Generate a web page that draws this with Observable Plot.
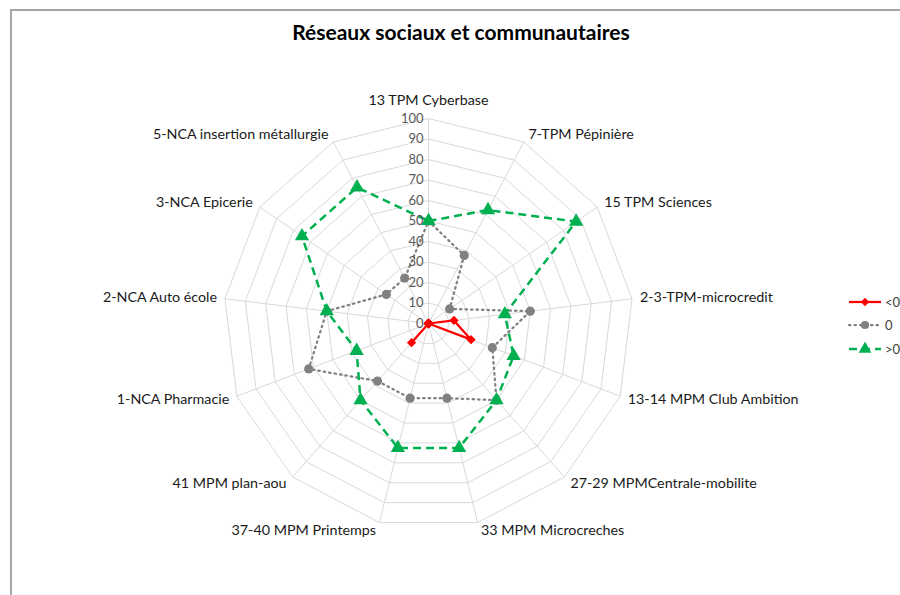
<!DOCTYPE html>
<html>
<head>
<meta charset="utf-8">
<script src="https://cdn.jsdelivr.net/npm/d3@7"></script>
<script src="https://cdn.jsdelivr.net/npm/@observablehq/plot@0.6"></script>
<style>
  html, body { margin: 0; padding: 0; background: #fff; }
  #wrap { position: relative; width: 900px; height: 595px; overflow: hidden; font-family: Lato, "Open Sans", sans-serif; }
  #border { position: absolute; left: 10px; top: 9px; width: 900px; height: 600px; border-left: 2px solid #a6a6a6; border-top: 2px solid #a6a6a6; box-sizing: border-box; }
  #title { position: absolute; left: 0; width: 922px; top: 19px; text-align: center; font-weight: bold; font-size: 21px; color: #000; }
  #legend { position: absolute; left: 847px; top: 290px; font-size: 13px; color: #404040; }
  #legend .row { height: 23.5px; display: flex; align-items: center; white-space: nowrap; }
  #legend svg { margin-right: 2px; }
  #chart { position: absolute; left: 0; top: 0; }
</style>
</head>
<body>
<div id="wrap">
  <div id="border"></div>
  <div id="chart"></div>
  <div id="title"></div>
  <div id="legend"></div>
</div>
<script>
const titleText = "Réseaux sociaux et communautaires";
const categories = [
  "13 TPM Cyberbase",
  "7-TPM Pépinière",
  "15 TPM Sciences",
  "2-3-TPM-microcredit",
  "13-14 MPM Club Ambition",
  "27-29 MPMCentrale-mobilite",
  "33 MPM Microcreches",
  "37-40 MPM Printemps",
  "41 MPM plan-aou",
  "1-NCA Pharmacie",
  "2-NCA Auto école",
  "3-NCA Epicerie",
  "5-NCA insertion métallurgie"
];
const seriesNames = ["<0", "0", ">0"];
const negValues  = [0, 0, 0, 12.5, 22.2, 0, 0, 0, 12.5, 0, 0, 0, 0];
const zeroValues = [50, 37.5, 12.5, 50, 33.3, 50, 37.5, 37.5, 37.5, 62.5, 50, 25, 25];
const posValues  = [50, 62.5, 87.5, 37.5, 44.4, 50, 62.5, 62.5, 50, 37.5, 50, 75, 75];
const tickValues = [0, 10, 20, 30, 40, 50, 60, 70, 80, 90, 100];

const seriesColors = ["#ff0000", "#808080", "#00b050"];
const seriesDash = [null, "1.5,4", "8,5"];
const seriesWidth = [2.25, 2.25, 2.5];
const seriesSymbol = ["diamond2", "circle", "triangle"];
const seriesR = [4.2, 4.6, 5.3];

document.getElementById("title").textContent = titleText;

const W = 900, H = 595, cx = 428, cy = 323, R = 205;
const u = R / 100; // px per unit
const n = categories.length;
const ang = k => 2 * Math.PI * k / n;
const px = (v, k) => v * Math.sin(ang(k));
const py = (v, k) => v * Math.cos(ang(k));

// grid rings
const rings = [];
for (const L of tickValues.filter(t => t > 0)) {
  for (let k = 0; k <= n; k++) rings.push({L, k: k % n});
}
const spokes = categories.map((c, k) => ({c, k}));

const allSeries = [negValues, zeroValues, posValues];
const seriesData = allSeries.map((vals, s) => {
  const pts = vals.map((v, k) => ({v, k, s}));
  return {line: [...pts, pts[0]], pts};
});

const labels = categories.map((c, k) => {
  const sn = Math.sin(ang(k)), cs = Math.cos(ang(k));
  const side = Math.abs(sn) < 1e-6 ? 0 : Math.sign(sn);
  const offX = side * (2 + 6 * Math.abs(sn));
  const offY = side === 0 ? 18 : 8 * cs;
  return {c, k, side, x: 100 * sn + offX / u, y: 100 * cs + offY / u};
});

const font = "Lato, 'Open Sans', sans-serif";
const marks = [
  Plot.line(rings, {x: d => px(d.L, d.k), y: d => py(d.L, d.k), z: "L", stroke: "#d9d9d9", strokeWidth: 1}),
  Plot.link(spokes, {x1: 0, y1: 0, x2: d => px(100, d.k), y2: d => py(100, d.k), stroke: "#d9d9d9", strokeWidth: 1}),
];
seriesData.forEach((sd, s) => {
  marks.push(Plot.line(sd.line, {x: d => px(d.v, d.k), y: d => py(d.v, d.k), stroke: seriesColors[s], strokeWidth: seriesWidth[s], strokeDasharray: seriesDash[s], strokeLinecap: s === 1 ? "round" : "butt", strokeLinejoin: "round"}));
  marks.push(Plot.dot(sd.pts, {x: d => px(d.v, d.k), y: d => py(d.v, d.k), symbol: () => seriesSymbol[s], r: seriesR[s], fill: seriesColors[s], stroke: "none"}));
});
marks.push(
  Plot.text(tickValues, {x: 0, y: d => d, text: d => String(d), textAnchor: "end", dx: -5, fill: "#595959", fontSize: 13, fontFamily: font}),
  Plot.text(labels.filter(d => d.side === 0), {x: "x", y: "y", text: "c", textAnchor: "middle", fill: "#1a1a1a", fontSize: 14.3, fontFamily: font}),
  Plot.text(labels.filter(d => d.side > 0), {x: "x", y: "y", text: "c", textAnchor: "start", fill: "#1a1a1a", fontSize: 14.3, fontFamily: font}),
  Plot.text(labels.filter(d => d.side < 0), {x: "x", y: "y", text: "c", textAnchor: "end", fill: "#1a1a1a", fontSize: 14.3, fontFamily: font})
);

const chart = Plot.plot({
  width: W, height: H, margin: 0,
  style: {background: "transparent", fontFamily: font},
  x: {domain: [-cx / u, (W - cx) / u], axis: null},
  y: {domain: [-(H - cy) / u, cy / u], axis: null},
  symbol: {type: "identity"},
  marks
});
document.getElementById("chart").appendChild(chart);

// legend
const leg = document.getElementById("legend");
seriesNames.forEach((name, s) => {
  const row = document.createElement("div");
  row.className = "row";
  const svg = d3.create("svg").attr("width", 36).attr("height", 14);
  svg.append("line").attr("x1", 2).attr("x2", 34).attr("y1", 7).attr("y2", 7)
    .attr("stroke", seriesColors[s]).attr("stroke-width", seriesWidth[s])
    .attr("stroke-dasharray", seriesDash[s]).attr("stroke-linecap", s === 1 ? "round" : "butt");
  const sym = {diamond2: d3.symbolDiamond2, circle: d3.symbolCircle, triangle: d3.symbolTriangle}[seriesSymbol[s]];
  svg.append("path").attr("transform", "translate(18,7)")
    .attr("d", d3.symbol(sym, Math.PI * seriesR[s] * seriesR[s] * 0.8)())
    .attr("fill", seriesColors[s]);
  row.appendChild(svg.node());
  const t = document.createElement("span");
  t.textContent = name;
  row.appendChild(t);
  leg.appendChild(row);
});
</script>
</body>
</html>
